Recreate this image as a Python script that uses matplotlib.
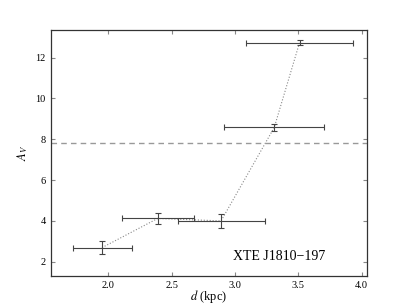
import matplotlib
matplotlib.use("Agg")
import matplotlib.pyplot as plt

plt.rcParams['font.family'] = ['Liberation Serif', 'DejaVu Serif']
plt.rcParams['mathtext.fontset'] = 'stix'

d = [1.95, 2.39, 2.89, 3.31, 3.51]
d_lo = [1.72, 2.11, 2.55, 2.91, 3.09]
d_hi = [2.19, 2.68, 3.24, 3.70, 3.93]
av = [2.69, 4.12, 4.00, 8.58, 12.74]
av_err = [0.33, 0.28, 0.33, 0.19, 0.14]
av_ref = 7.82
label = "XTE J1810\u2212197"

xerr = [[x - lo for x, lo in zip(d, d_lo)], [hi - x for x, hi in zip(d, d_hi)]]

fig = plt.figure(figsize=(4.07, 3.07), dpi=100)
ax = fig.add_axes([0.1246, 0.101, 0.7764, 0.801])

ax.plot(d, av, ls=':', color='#888888', lw=0.8)
ax.errorbar(d, av, xerr=xerr, yerr=av_err, fmt='none', ecolor='#444444',
            elinewidth=0.8, capsize=2, capthick=0.8)
ax.axhline(av_ref, ls='--', color='#999999', lw=1.0, dashes=(4, 3))
ax.text(3.35, 2.25, label, fontsize=10, ha='center', va='center')

ax.set_xlim(1.545, 4.04)
ax.set_ylim(1.3, 13.35)
ax.set_xticks([2.0, 2.5, 3.0, 3.5, 4.0])
ax.set_yticks([2, 4, 6, 8, 10, 12])
ax.set_xlabel("$d$ (kpc)", fontsize=9, labelpad=-1)
ax.set_ylabel("$A_V$", fontsize=9, labelpad=4)
ax.tick_params(direction='in', top=True, right=True, labelsize=7.5, length=3,
               color='#888888', width=0.8, pad=3.5)
for s in ax.spines.values():
    s.set_color('#333333')
    s.set_linewidth(0.9)

fig.savefig("out.png", dpi=100)
